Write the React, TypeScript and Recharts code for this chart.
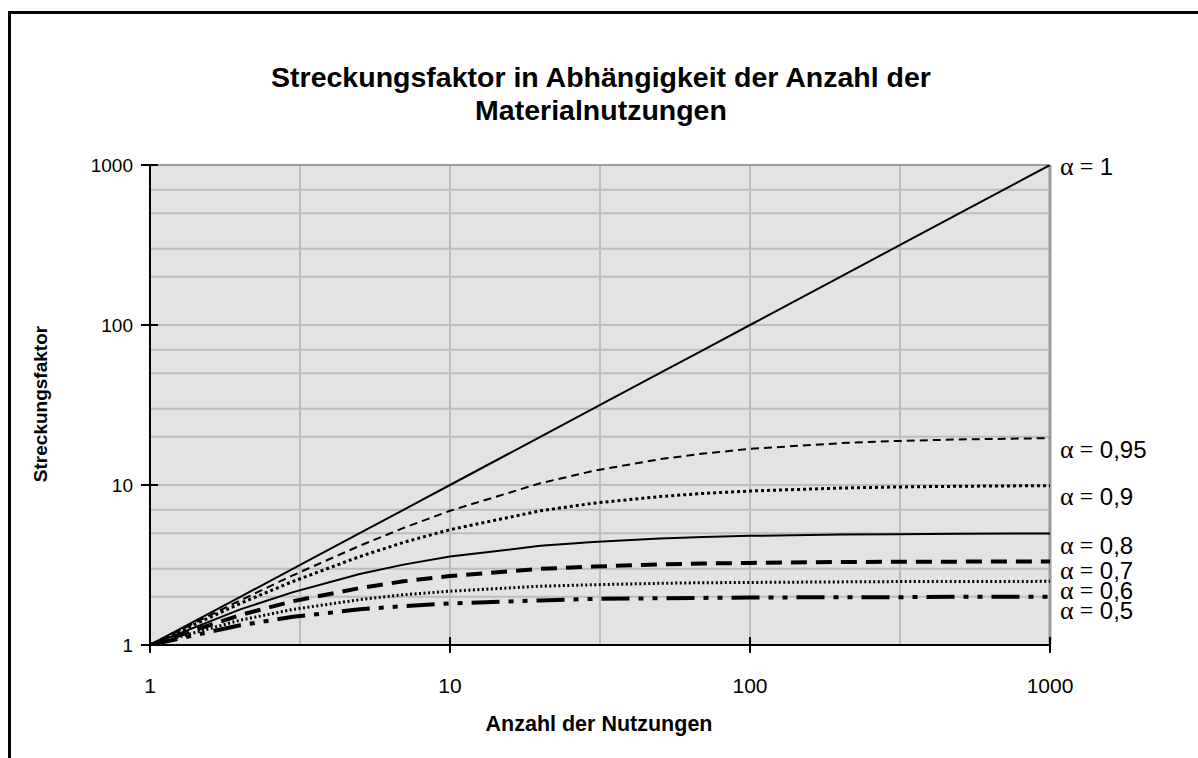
import { CartesianGrid, Line, LineChart, ReferenceLine, XAxis, YAxis } from 'recharts';

// Streckungsfaktor über Anzahl der Nutzungen, log-log, eine Linie je alpha
const NUTZUNGEN = [1, 2, 3, 5, 7, 10, 20, 30, 50, 70, 100, 200, 300, 500, 1000];

const ALPHA_100 = [1, 2, 3, 5, 7, 10, 20, 30, 50, 70, 100, 200, 300, 500, 1000];
const ALPHA_095 = [1, 1.9, 2.73, 4.17, 5.39, 6.9, 10.26, 12.24, 14.49, 15.73, 16.81, 18.26, 18.81, 19.27, 19.63];
const ALPHA_090 = [1, 1.82, 2.5, 3.57, 4.38, 5.26, 6.9, 7.69, 8.47, 8.86, 9.17, 9.57, 9.71, 9.82, 9.91];
const ALPHA_080 = [1, 1.67, 2.14, 2.78, 3.18, 3.57, 4.17, 4.41, 4.63, 4.73, 4.81, 4.9, 4.93, 4.96, 4.98];
const ALPHA_070 = [1, 1.54, 1.88, 2.27, 2.5, 2.7, 2.99, 3.09, 3.19, 3.23, 3.26, 3.3, 3.31, 3.32, 3.33];
const ALPHA_060 = [1, 1.43, 1.67, 1.92, 2.06, 2.17, 2.33, 2.38, 2.43, 2.45, 2.46, 2.48, 2.49, 2.49, 2.5];
const ALPHA_050 = [1, 1.33, 1.5, 1.67, 1.75, 1.82, 1.9, 1.94, 1.96, 1.97, 1.98, 1.99, 1.99, 2, 2];

const SERIES_LABELS = ['1', '0,95', '0,9', '0,8', '0,7', '0,6', '0,5'];

const DECADES = [1, 10, 100, 1000];
const X_GRID = [1, 3.162, 10, 31.62, 100, 316.2, 1000];
const Y_GRID = [
  1, 2, 3, 4, 5, 6, 7, 8, 9, 10, 20, 30, 40, 50, 60, 70, 80, 90, 100, 200, 300, 400, 500, 600, 700, 800,
  900, 1000,
];

const data = NUTZUNGEN.map((n, i) => ({
  n,
  a100: ALPHA_100[i],
  a095: ALPHA_095[i],
  a090: ALPHA_090[i],
  a080: ALPHA_080[i],
  a070: ALPHA_070[i],
  a060: ALPHA_060[i],
  a050: ALPHA_050[i],
}));

const PLOT_BG = '#e3e3e3';
const GRID = '#bdbdbd';
const BORDER = '#9c9c9c';
const SANS = '"Liberation Sans", Arial, sans-serif';
const SERIF = '"Liberation Serif", "Times New Roman", serif';

const SERIES = [
  { key: 'a100', width: 2, dash: undefined, dy: 1 },
  { key: 'a095', width: 2, dash: '8 5', dy: 11 },
  { key: 'a090', width: 3, dash: '3 3', dy: 10 },
  { key: 'a080', width: 2, dash: undefined, dy: 12 },
  { key: 'a070', width: 4, dash: '16 9', dy: 9 },
  { key: 'a060', width: 3, dash: '2 2.5', dy: 9 },
  { key: 'a050', width: 4, dash: '28 9 5 9 5 9', dy: 13 },
];

function endLabel(text: string, dy: number) {
  return (props: any) => {
    if (props.index !== NUTZUNGEN.length - 1) return <g />;
    return (
      <text x={props.x + 10} y={props.y + dy} dominantBaseline="central" fontSize={24} fill="#000">
        <tspan fontFamily={SERIF} fontSize={26}>α</tspan>
        <tspan fontFamily={SERIF}> =</tspan>
        <tspan fontFamily={SANS}> {text}</tspan>
      </text>
    );
  };
}

function XTick(props: any) {
  const { x, y, payload } = props;
  return (
    <g>
      <line x1={x} x2={x} y1={y - 8} y2={y + 8} stroke="#000" strokeWidth={2} />
      <text x={x} y={y + 40} textAnchor="middle" dominantBaseline="central" fontSize={21} fontFamily={SANS} fill="#000">
        {payload.value}
      </text>
    </g>
  );
}

function YTick(props: any) {
  const { x, y, payload } = props;
  return (
    <g>
      <line x1={x - 9} x2={x + 8} y1={y} y2={y} stroke="#000" strokeWidth={2} />
      <text x={x - 17} y={y} textAnchor="end" dominantBaseline="central" fontSize={19} fontFamily={SANS} fill="#000">
        {payload.value}
      </text>
    </g>
  );
}

export default function App() {
  return (
    <div style={{ position: 'fixed', left: 0, top: 0, width: 1198, height: 758, overflow: 'hidden', background: '#fff', fontFamily: SANS }}>
      <div
        style={{
          position: 'absolute',
          left: 8,
          top: 11,
          width: 1300,
          height: 900,
          borderTop: '3px solid #000',
          borderLeft: '3px solid #000',
        }}
      />
      <div style={{ position: 'absolute', left: 0, width: 1202, top: 61, textAlign: 'center', fontWeight: 'bold', fontSize: 28.5, lineHeight: '33px' }}>
        Streckungsfaktor in Abhängigkeit der Anzahl der
        <br />
        Materialnutzungen
      </div>
      <div style={{ position: 'absolute', left: 0, width: 1198, top: 712, textAlign: 'center', fontWeight: 'bold', fontSize: 21.5 }}>
        Anzahl der Nutzungen
      </div>
      <div
        style={{
          position: 'absolute',
          left: 41,
          top: 404,
          transform: 'translate(-50%, -50%) rotate(-90deg)',
          fontWeight: 'bold',
          fontSize: 19,
          whiteSpace: 'nowrap',
        }}
      >
        Streckungsfaktor
      </div>
      <div style={{ position: 'absolute', left: 0, top: 0 }}>
        <LineChart width={1198} height={758} data={data} margin={{ top: 165, right: 148, bottom: 53, left: 0 }}>
          <CartesianGrid
            fill={PLOT_BG}
            fillOpacity={1}
            stroke={GRID}
            strokeWidth={2}
            horizontalValues={Y_GRID}
            verticalValues={X_GRID}
          />
          <XAxis
            dataKey="n"
            type="number"
            scale="log"
            domain={[1, 1000]}
            ticks={DECADES}
            allowDataOverflow
            height={60}
            tickSize={0}
            tickMargin={0}
            tick={<XTick />}
            axisLine={{ stroke: '#000', strokeWidth: 2 }}
          />
          <YAxis
            type="number"
            scale="log"
            domain={[1, 1000]}
            ticks={DECADES}
            allowDataOverflow
            width={150}
            tickSize={0}
            tickMargin={0}
            tick={<YTick />}
            axisLine={{ stroke: '#000', strokeWidth: 2 }}
          />
          <ReferenceLine y={1000} stroke={BORDER} strokeWidth={2} />
          <ReferenceLine x={1000} stroke={BORDER} strokeWidth={3} />
          {SERIES.map((s, i) => (
            <Line
              key={s.key}
              dataKey={s.key}
              stroke="#000"
              strokeWidth={s.width}
              strokeDasharray={s.dash}
              dot={false}
              activeDot={false}
              isAnimationActive={false}
              label={endLabel(SERIES_LABELS[i], s.dy)}
            />
          ))}
        </LineChart>
      </div>
    </div>
  );
}
